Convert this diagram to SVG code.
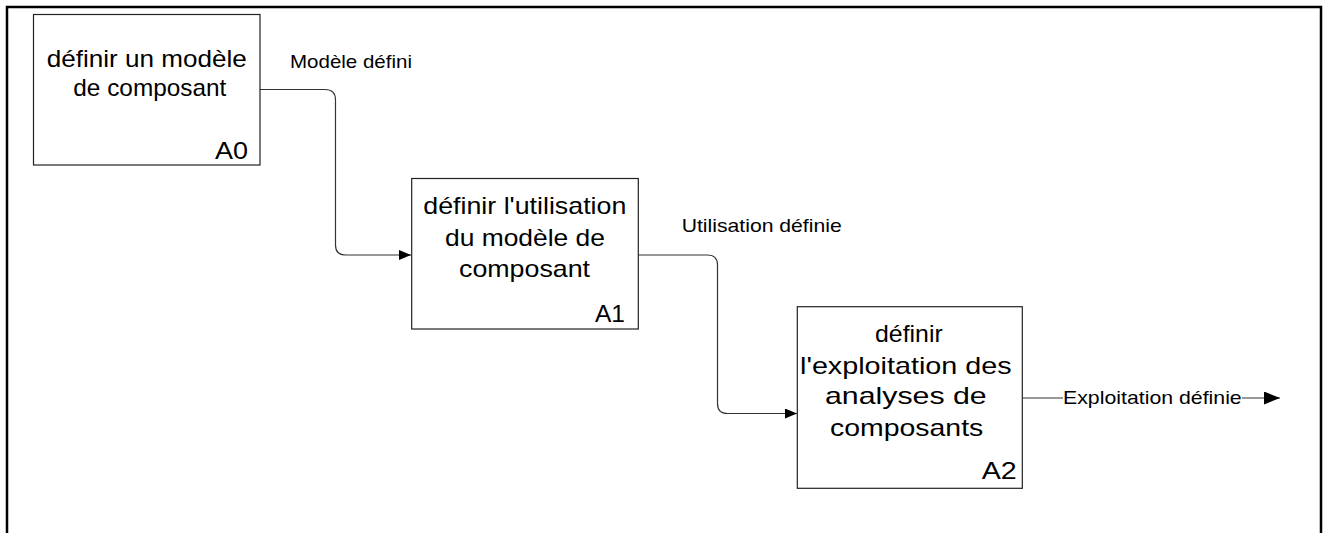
<svg xmlns="http://www.w3.org/2000/svg" width="1324" height="533" viewBox="0 0 1324 533">
<style>
  text { font-family: "Liberation Sans", Arial, sans-serif; fill: #000; }
  .t { font-size: 24px; }
  .lbl { font-size: 19px; }
  .box { fill: #fff; stroke: #222; stroke-width: 1.2; }
  .conn { fill: none; stroke: #333; stroke-width: 1.2; }
  .frame { fill: none; stroke: #000; stroke-width: 2.5; }
</style>
<defs>
  <marker id="arr" markerUnits="userSpaceOnUse" markerWidth="14" markerHeight="12" refX="12" refY="5" orient="auto">
    <path d="M0,0 L12,5 L0,10 z" fill="#000"/>
  </marker>
  <marker id="arr2" markerUnits="userSpaceOnUse" markerWidth="18" markerHeight="14" refX="16" refY="6.5" orient="auto">
    <path d="M0,0 L16,6.5 L0,13 z" fill="#000"/>
  </marker>
</defs>
<path class="frame" d="M7,534 V7 H1321 V534"/>
<g id="connectors">
  <path class="conn" d="M260,89.5 H325 Q335.5,89.5 335.5,100 V245 Q335.5,255 345.5,255 H411" marker-end="url(#arr)"/>
  <path class="conn" d="M638,255 H707.5 Q717.5,255 717.5,265 V403.5 Q717.5,413.5 727.5,413.5 H797" marker-end="url(#arr)"/>
  <path class="conn" d="M1022,398 H1063 M1242,398 H1280" marker-end="url(#arr2)"/>
  <text class="lbl" x="290" y="68" textLength="122" lengthAdjust="spacingAndGlyphs">Modèle défini</text>
  <text class="lbl" x="681.7" y="231.7" textLength="160" lengthAdjust="spacingAndGlyphs">Utilisation définie</text>
  <text class="lbl" x="1063" y="403.5" textLength="178.7" lengthAdjust="spacingAndGlyphs">Exploitation définie</text>
</g>
<g id="A0">
  <rect class="box" x="33.5" y="14.5" width="226.5" height="150.5"/>
  <text class="t" x="46.7" y="66.7" textLength="200" lengthAdjust="spacingAndGlyphs">définir un modèle</text>
  <text class="t" x="73.3" y="96" textLength="153" lengthAdjust="spacingAndGlyphs">de composant</text>
  <text class="t" x="215" y="159.3" textLength="33" lengthAdjust="spacingAndGlyphs">A0</text>
</g>
<g id="A1">
  <rect class="box" x="411.7" y="178.5" width="226.6" height="150.5"/>
  <text class="t" x="423.3" y="214.3" textLength="203" lengthAdjust="spacingAndGlyphs">définir l'utilisation</text>
  <text class="t" x="445" y="246.3" textLength="160" lengthAdjust="spacingAndGlyphs">du modèle de</text>
  <text class="t" x="459" y="277" textLength="131" lengthAdjust="spacingAndGlyphs">composant</text>
  <text class="t" x="595" y="321.7" textLength="30" lengthAdjust="spacingAndGlyphs">A1</text>
</g>
<g id="A2">
  <rect class="box" x="797.3" y="306.7" width="225" height="181.6"/>
  <text class="t" x="875" y="341.7" textLength="67.7" lengthAdjust="spacingAndGlyphs">définir</text>
  <text class="t" x="800" y="373.7" textLength="211.7" lengthAdjust="spacingAndGlyphs">l'exploitation des</text>
  <text class="t" x="825" y="404.3" textLength="161.7" lengthAdjust="spacingAndGlyphs">analyses de</text>
  <text class="t" x="830" y="436.3" textLength="153.3" lengthAdjust="spacingAndGlyphs">composants</text>
  <text class="t" x="981.7" y="479" textLength="35" lengthAdjust="spacingAndGlyphs">A2</text>
</g>
</svg>
